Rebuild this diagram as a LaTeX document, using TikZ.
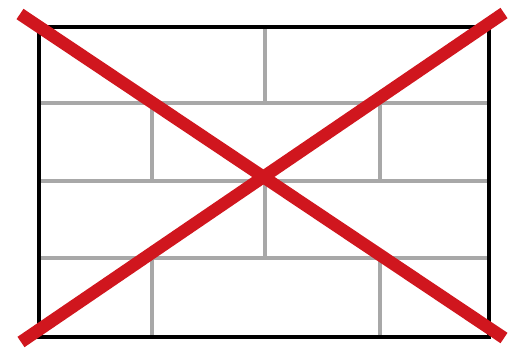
\documentclass[tikz,border=0pt]{standalone}
\definecolor{xred}{HTML}{D0161E}
\definecolor{brick}{HTML}{A8A8A8}
\begin{document}
\begin{tikzpicture}[x=1pt,y=-1pt,
  frame/.style={draw=black,line width=3.2pt},
  mortar/.style={draw=brick,line width=3.2pt},
  cross/.style={draw=xred,line width=12.5pt,line cap=butt}]
\useasboundingbox (0,0) rectangle (509,349);
% mortar lines
\foreach \y in {103,181,258} \draw[mortar] (39,\y) -- (489,\y);
\draw[mortar] (265,27) -- (265,103);
\draw[mortar] (265,181) -- (265,258);
\foreach \x in {152,380} {
  \draw[mortar] (\x,103) -- (\x,181);
  \draw[mortar] (\x,258) -- (\x,337);
}
% frame
\draw[frame] (39,27) rectangle (489,337);
% red cross
\coordinate (a) at (20,14);
\coordinate (b) at (504,338);
\coordinate (c) at (504,13);
\coordinate (d) at (21,342);
\draw[cross] (a) -- (b);
\draw[cross] (c) -- (d);
\end{tikzpicture}
\end{document}
